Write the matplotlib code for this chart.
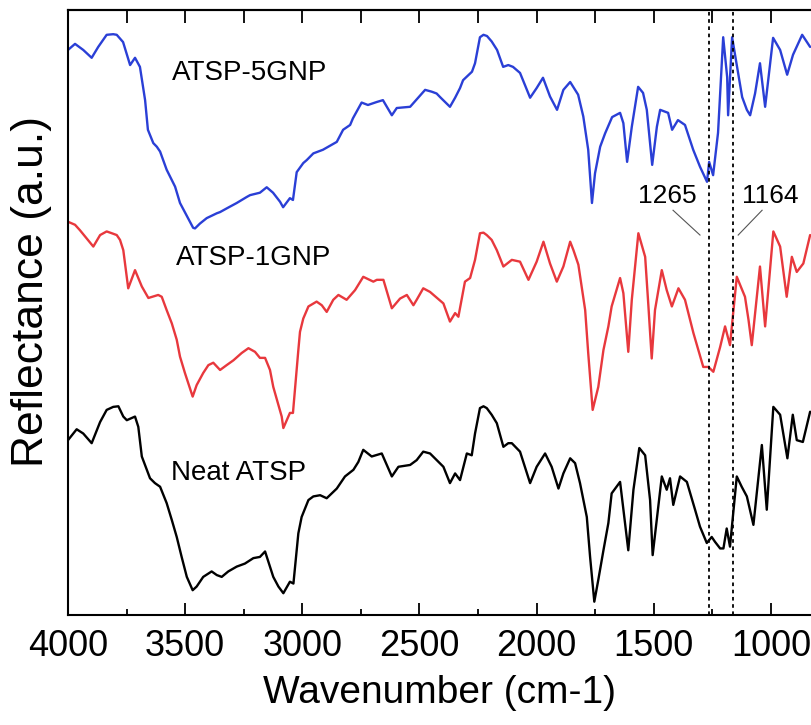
import matplotlib
matplotlib.use("Agg")
import matplotlib.pyplot as plt
from matplotlib.ticker import MultipleLocator, NullFormatter

plt.rcParams['font.family'] = ['Liberation Sans', 'DejaVu Sans']

# FTIR spectra: wavenumber (cm-1) and stacked reflectance (a.u.)
wn_5gnp = [4000, 3970, 3935, 3899, 3871, 3835, 3807, 3792, 3765, 3735, 3714, 3693,
           3671, 3659, 3636, 3621, 3607, 3579, 3543, 3522, 3466, 3458, 3437, 3408,
           3365, 3351, 3323, 3280, 3237, 3223, 3181, 3152, 3125, 3095, 3082, 3053,
           3040, 3024, 2996, 2981, 2953, 2912, 2853, 2826, 2796, 2784, 2747, 2720,
           2682, 2656, 2618, 2597, 2569, 2540, 2476, 2448, 2427, 2412, 2370, 2348,
           2327, 2314, 2276, 2263, 2242, 2227, 2212, 2192, 2169, 2143, 2121, 2101,
           2071, 2050, 2028, 2000, 1973, 1943, 1913, 1886, 1857, 1823, 1801, 1780,
           1764, 1751, 1729, 1708, 1678, 1644, 1630, 1614, 1594, 1567, 1546, 1530,
           1507, 1487, 1473, 1439, 1422, 1397, 1367, 1332, 1303, 1273, 1264, 1247,
           1226, 1204, 1187, 1183, 1166, 1123, 1103, 1089, 1068, 1047, 1025, 991,
           961, 931, 906, 867, 833]
refl_5gnp = [93.4, 94.4, 93.4, 92.1, 93.9, 95.9, 96.0, 95.9, 94.7, 90.9, 92.1, 90.6,
             85.1, 80.2, 78.0, 77.4, 76.6, 73.6, 70.8, 68.1, 64.0, 63.9, 64.7, 65.6,
             66.4, 66.6, 67.2, 68.1, 69.1, 69.4, 69.8, 70.7, 69.8, 68.3, 67.4, 68.9,
             68.6, 73.2, 74.7, 75.2, 76.3, 76.9, 78.2, 80.2, 81.0, 82.1, 84.7, 84.3,
             84.8, 85.1, 82.6, 83.8, 83.9, 84.0, 86.8, 86.5, 86.2, 85.6, 84.0, 85.5,
             87.1, 88.4, 89.8, 91.2, 95.5, 95.9, 95.7, 94.8, 93.4, 90.6, 90.9, 90.6,
             89.6, 87.6, 85.5, 87.1, 88.8, 85.7, 83.5, 86.8, 88.1, 86.0, 82.4, 76.9,
             68.1, 73.0, 77.4, 79.6, 82.3, 83.0, 81.3, 74.9, 80.7, 87.3, 86.3, 83.5,
             74.4, 80.7, 83.5, 83.0, 80.2, 81.8, 81.0, 76.9, 74.1, 71.6, 74.9, 72.7,
             79.7, 95.5, 88.9, 82.6, 95.5, 85.6, 83.5, 82.6, 86.2, 91.2, 84.0, 95.4,
             93.4, 89.3, 92.6, 95.9, 93.9]

wn_1gnp = [4000, 3970, 3949, 3892, 3863, 3835, 3813, 3792, 3778, 3764, 3743, 3714,
           3685, 3657, 3615, 3600, 3579, 3557, 3536, 3522, 3501, 3468, 3451, 3423,
           3401, 3380, 3351, 3323, 3294, 3259, 3230, 3202, 3181, 3159, 3138, 3124,
           3088, 3081, 3053, 3040, 3017, 3010, 2996, 2974, 2939, 2917, 2896, 2868,
           2846, 2811, 2775, 2740, 2697, 2682, 2654, 2618, 2583, 2554, 2526, 2512,
           2484, 2455, 2398, 2370, 2348, 2334, 2306, 2284, 2263, 2242, 2227, 2213,
           2192, 2170, 2142, 2106, 2071, 2035, 2000, 1971, 1943, 1914, 1886, 1857,
           1843, 1822, 1793, 1780, 1761, 1737, 1715, 1694, 1680, 1644, 1630, 1609,
           1594, 1566, 1537, 1523, 1509, 1495, 1466, 1445, 1423, 1395, 1367, 1331,
           1289, 1267, 1246, 1217, 1196, 1175, 1146, 1111, 1096, 1082, 1047, 1025,
           990, 961, 933, 911, 890, 862, 833]
refl_1gnp = [65.0, 64.5, 63.6, 60.9, 62.8, 63.4, 63.1, 62.8, 62.0, 60.3, 54.0, 57.0,
             54.3, 52.4, 52.9, 52.6, 50.4, 48.2, 45.5, 42.7, 40.0, 36.1, 38.0, 40.0,
             41.3, 41.7, 40.5, 41.3, 42.1, 43.3, 44.1, 43.5, 42.5, 42.5, 40.5, 37.7,
             32.8, 30.9, 33.4, 33.4, 43.8, 46.8, 49.0, 51.0, 51.8, 51.2, 50.1, 52.1,
             52.9, 52.1, 53.7, 55.9, 55.1, 55.4, 55.4, 50.7, 52.3, 52.9, 51.2, 52.1,
             54.0, 53.4, 51.5, 48.5, 49.9, 49.3, 55.1, 55.7, 58.7, 63.1, 63.2, 62.8,
             62.0, 60.3, 57.6, 58.7, 58.4, 55.4, 58.4, 61.7, 58.1, 55.1, 57.6, 61.7,
             60.3, 57.9, 50.4, 43.3, 33.9, 37.7, 43.8, 47.7, 51.0, 55.7, 53.2, 43.5,
             52.1, 63.1, 59.2, 51.0, 42.4, 50.4, 57.0, 53.7, 51.0, 54.0, 52.1, 46.6,
             41.0, 41.0, 40.2, 44.3, 47.7, 44.6, 55.9, 52.6, 48.8, 44.6, 57.6, 47.7,
             63.4, 60.9, 52.6, 59.2, 56.7, 58.1, 62.8]

wn_neat = [4000, 3963, 3935, 3899, 3863, 3835, 3807, 3785, 3764, 3749, 3714, 3700,
           3685, 3650, 3629, 3607, 3579, 3557, 3536, 3515, 3493, 3468, 3451, 3423,
           3387, 3365, 3344, 3316, 3280, 3245, 3209, 3181, 3159, 3124, 3102, 3081,
           3053, 3038, 3017, 3003, 2974, 2953, 2924, 2896, 2853, 2818, 2782, 2761,
           2740, 2704, 2661, 2618, 2590, 2540, 2512, 2484, 2455, 2398, 2370, 2348,
           2327, 2298, 2277, 2263, 2242, 2227, 2213, 2192, 2170, 2142, 2121, 2106,
           2071, 2028, 2000, 1964, 1936, 1907, 1886, 1857, 1836, 1815, 1786, 1772,
           1754, 1737, 1715, 1694, 1680, 1644, 1609, 1587, 1562, 1537, 1516, 1505,
           1466, 1445, 1431, 1417, 1388, 1359, 1324, 1303, 1274, 1253, 1239, 1217,
           1203, 1189, 1175, 1146, 1125, 1103, 1075, 1039, 1018, 990, 961, 930,
           907, 890, 864, 833]
refl_neat = [28.9, 30.7, 30.0, 28.4, 31.9, 33.9, 34.4, 34.5, 32.8, 32.2, 32.8, 31.1,
             26.2, 22.6, 21.8, 21.2, 18.5, 15.7, 12.9, 9.6, 6.3, 4.1, 4.7, 6.3,
             7.2, 6.6, 6.3, 7.2, 8.0, 8.5, 9.4, 9.6, 10.5, 6.3, 4.7, 3.6,
             5.5, 5.2, 13.5, 16.2, 19.0, 19.6, 19.8, 19.3, 20.9, 22.9, 24.0, 25.3,
             27.3, 26.2, 26.7, 22.9, 24.5, 24.8, 25.6, 27.0, 26.7, 24.5, 21.8, 23.4,
             22.3, 26.7, 26.4, 30.0, 34.2, 34.5, 34.2, 33.1, 31.7, 27.8, 28.4, 28.4,
             27.0, 21.8, 24.5, 26.7, 24.5, 20.9, 23.4, 25.9, 25.1, 21.8, 16.2, 9.6,
             2.2, 5.8, 10.7, 15.2, 20.1, 22.0, 10.7, 20.7, 27.6, 26.4, 19.0, 9.9,
             22.9, 20.7, 22.6, 18.2, 22.9, 22.0, 17.4, 14.6, 11.9, 12.9, 12.1, 11.0,
             11.0, 14.3, 11.3, 22.9, 21.2, 19.6, 14.9, 28.1, 17.4, 34.4, 33.1, 25.9,
             33.1, 28.9, 28.6, 33.6]

marked_bands = [1265, 1164]
series_labels = ["ATSP-5GNP", "ATSP-1GNP", "Neat ATSP"]

fig = plt.figure(figsize=(8.12, 7.25), dpi=100)
ax = fig.add_axes([68 / 812, 110 / 725, 744 / 812, 605 / 725])

line_kw = dict(lw=1.7, solid_joinstyle="round", solid_capstyle="round")
ax.plot(wn_5gnp, refl_5gnp, color="#2a3fd6", **line_kw)
ax.plot(wn_1gnp, refl_1gnp, color="#e8383d", **line_kw)
ax.plot(wn_neat, refl_neat, color="black", **line_kw)

for b in marked_bands:
    ax.axvline(b, color="black", lw=1.3, ls=(0, (2, 2)))

ax.set_xlim(4000, 825)
ax.set_ylim(0, 100)

# curve labels
ax.text(3223, 89.6, series_labels[0], fontsize=20, ha="center", va="center")
ax.text(3206, 59.0, series_labels[1], fontsize=20, ha="center", va="center")
ax.text(3270, 23.5, series_labels[2], fontsize=20, ha="center", va="center")

# band annotations with leader lines
ax.text(1443, 69.3, str(marked_bands[0]), fontsize=19, ha="center", va="center")
ax.text(1004, 69.3, str(marked_bands[1]), fontsize=19, ha="center", va="center")
ax.plot([1418, 1303], [66.9, 62.8], color="#555555", lw=0.8)
ax.plot([1038, 1140], [66.9, 62.8], color="#555555", lw=0.8)

for side in ("left", "bottom", "top"):
    ax.spines[side].set_linewidth(1.5)
ax.spines["right"].set_visible(False)

ax.xaxis.set_major_locator(MultipleLocator(500))
ax.xaxis.set_minor_locator(MultipleLocator(250))
ax.tick_params(axis="x", which="major", direction="in", length=9, width=1.3,
               labelsize=26, pad=10)
ax.tick_params(axis="x", which="minor", direction="in", length=4, width=1.3)
ax.set_yticks([])

top = ax.secondary_xaxis("top")
top.xaxis.set_major_locator(MultipleLocator(250))
top.xaxis.set_major_formatter(NullFormatter())
top.tick_params(axis="x", direction="in", length=9, width=1.3)
top.spines["top"].set_linewidth(1.5)

ax.set_xlabel("Wavenumber (cm-1)", fontsize=28, labelpad=8)
ax.set_ylabel("Reflectance (a.u.)", fontsize=32)
ax.yaxis.set_label_coords(-0.021, 0.534)

fig.savefig("out.png", dpi=100)
